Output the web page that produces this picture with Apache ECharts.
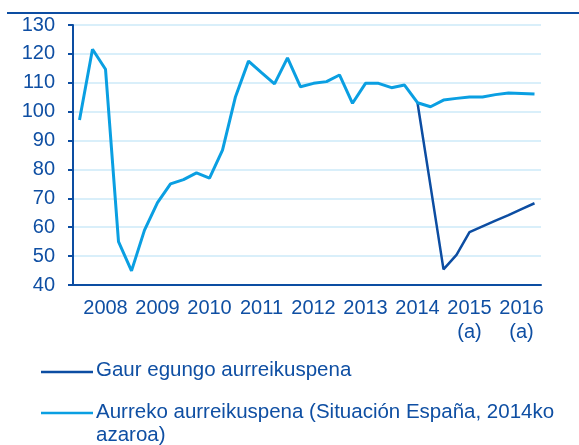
<!DOCTYPE html>
<html>
<head>
<meta charset="utf-8">
<script src="https://cdn.jsdelivr.net/npm/echarts@6/dist/echarts.min.js"></script>
<style>
html,body{margin:0;padding:0;background:#fff;}
#c{width:579px;height:445px;}
</style>
</head>
<body>
<div id="c"></div>
<script>
// Quarterly categories 2008 Q1 .. 2016 Q4
var years = ['2008','2009','2010','2011','2012','2013','2014','2015','2016'];
var yearLabels = ['2008','2009','2010','2011','2012','2013','2014','2015\n(a)','2016\n(a)'];
var quarters = [];
years.forEach(function(y){ for (var q = 1; q <= 4; q++) quarters.push(y + 'T' + q); });

var seriesNames = ['Gaur egungo aurreikuspena', 'Aurreko aurreikuspena (Situación España, 2014ko azaroa)'];

// Current forecast (starts 2014 Q3)
var currentForecast = [
  null, null, null, null,
  null, null, null, null,
  null, null, null, null,
  null, null, null, null,
  null, null, null, null,
  null, null, null, null,
  null, null, 103.1, 74.3,
  45.4, 50.4, 58.3, 60.3,
  62.3, 64.2, 66.3, 68.3
];

// Previous forecast
var previousForecast = [
  97.1, 121.6, 114.7, 55.0,
  44.9, 59.0, 68.5, 75.0,
  76.5, 78.8, 77.0, 86.7,
  105.2, 117.5, 113.5, 109.6,
  118.6, 108.6, 109.8, 110.4,
  112.7, 102.9, 109.8, 109.8,
  108.3, 109.2, 103.1, 101.7,
  104.0, 104.6, 105.1, 105.1,
  105.9, 106.5, 106.3, 106.1
];

var DARK = '#0c4da2';
var LIGHT = '#0a9fe2';
var TEXT = '#0f4fa3';
var FONT = '"Liberation Sans", Arial, sans-serif';

var chart = echarts.init(document.getElementById('c'), null, {renderer: 'canvas'});
chart.setOption({
  animation: false,
  backgroundColor: '#ffffff',
  grid: {left: 73, right: 38, top: 25, bottom: 160, containLabel: false},
  xAxis: {
    type: 'category',
    data: quarters,
    boundaryGap: true,
    axisLine: {lineStyle: {color: DARK, width: 2}},
    axisTick: {interval: 3, length: 5, lineStyle: {color: DARK, width: 2}},
    axisLabel: {
      interval: function(i){ return i % 4 === 2; },
      formatter: function(v, i){ return yearLabels[Math.floor(i / 4)]; },
      color: TEXT, fontFamily: FONT, fontSize: 20, lineHeight: 24, margin: 11
    },
    splitLine: {show: false}
  },
  yAxis: {
    type: 'value',
    min: 40, max: 130, interval: 10,
    axisLine: {show: true, lineStyle: {color: DARK, width: 2}},
    axisTick: {show: true, length: 5, lineStyle: {color: DARK, width: 2}},
    axisLabel: {color: TEXT, fontFamily: FONT, fontSize: 20, margin: 18},
    splitLine: {lineStyle: {color: '#cdeaf8', width: 1.5}}
  },
  series: [
    {
      name: seriesNames[0], type: 'line', data: currentForecast,
      showSymbol: false, symbol: 'none', connectNulls: false,
      lineStyle: {color: DARK, width: 2.5}, itemStyle: {color: DARK}, z: 2
    },
    {
      name: seriesNames[1], type: 'line', data: previousForecast,
      showSymbol: false, symbol: 'none',
      lineStyle: {color: LIGHT, width: 3}, itemStyle: {color: LIGHT}, z: 3
    }
  ],
  graphic: [
    {type: 'line', shape: {x1: 7, y1: 13, x2: 579, y2: 13}, style: {stroke: DARK, lineWidth: 2}},
    {type: 'line', shape: {x1: 41, y1: 372, x2: 93, y2: 372}, style: {stroke: DARK, lineWidth: 2.5}},
    {type: 'text', left: 96, top: 360, style: {text: 'Gaur egungo aurreikuspena', fill: TEXT, font: '20.5px ' + FONT}},
    {type: 'line', shape: {x1: 41, y1: 413, x2: 93, y2: 413}, style: {stroke: LIGHT, lineWidth: 2.5}},
    {type: 'text', left: 96, top: 401, style: {text: 'Aurreko aurreikuspena (Situación España, 2014ko\nazaroa)', fill: TEXT, font: '20.5px ' + FONT, lineHeight: 23}}
  ]
});
</script>
</body>
</html>
